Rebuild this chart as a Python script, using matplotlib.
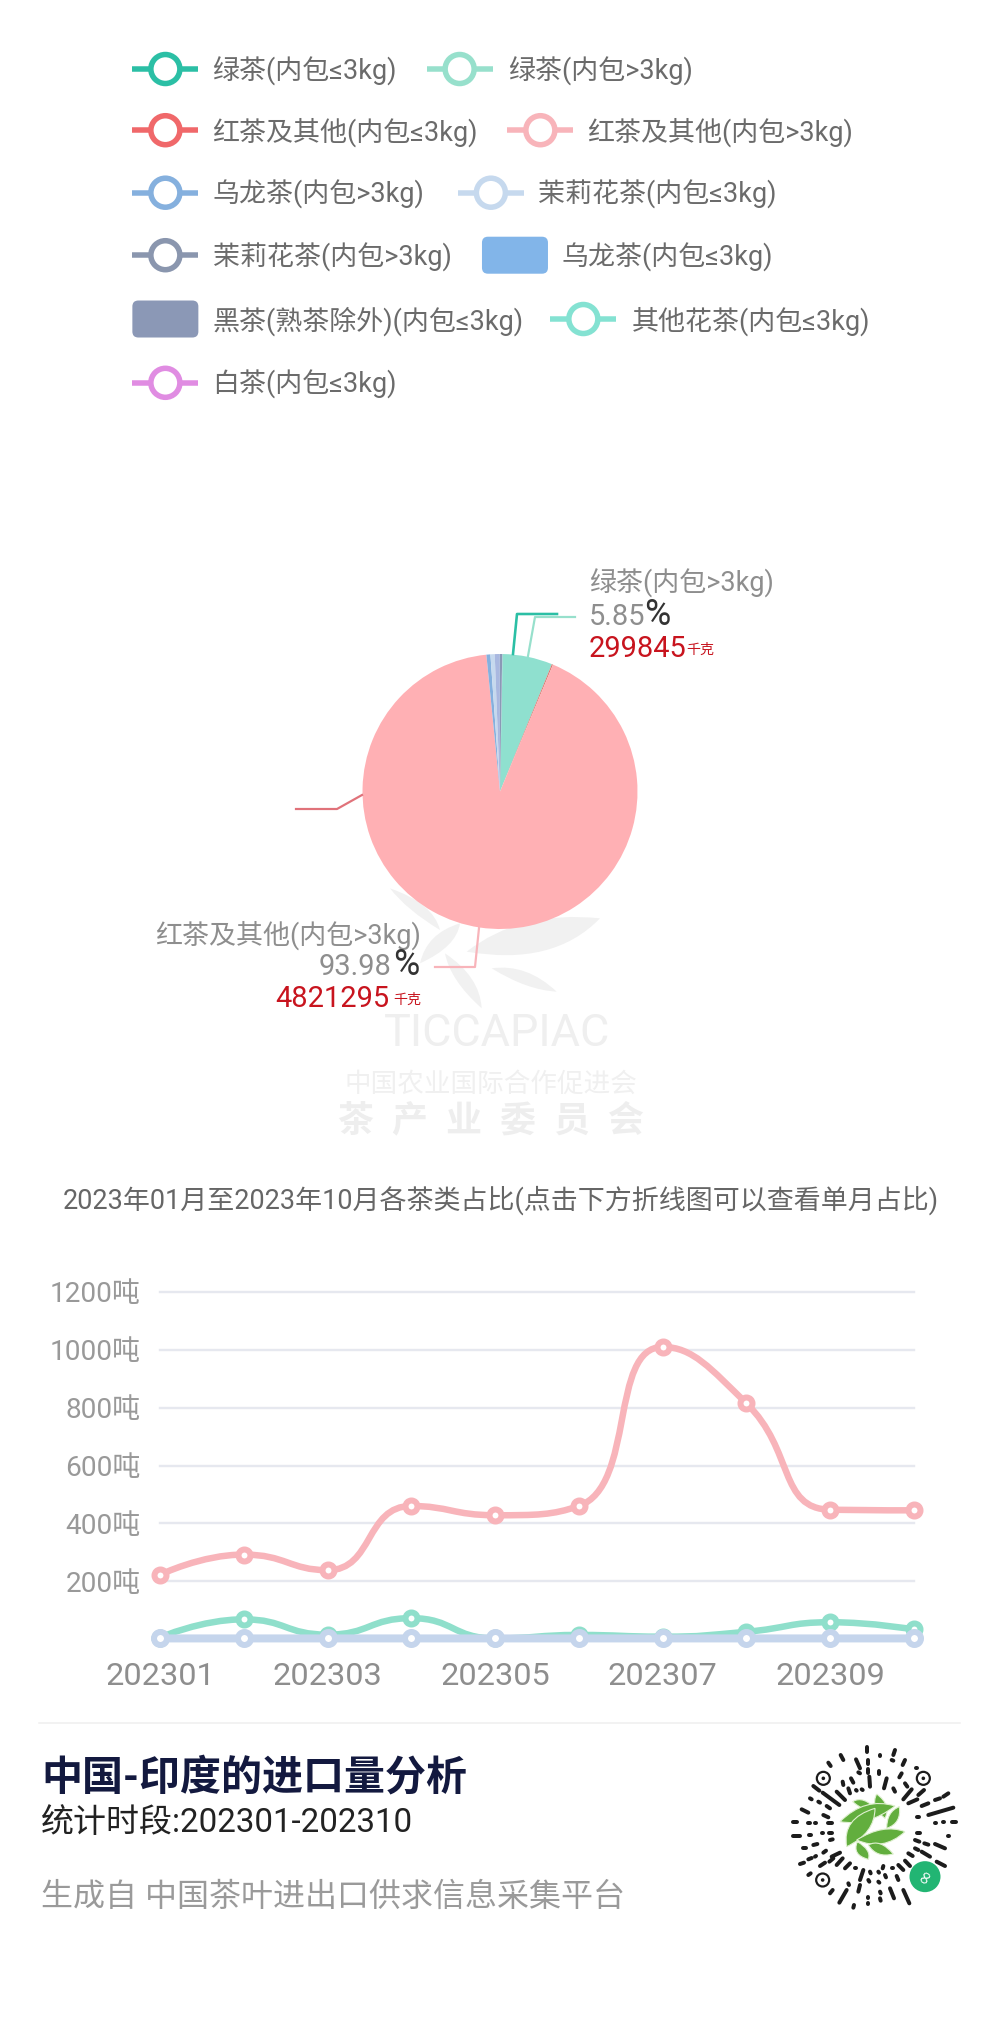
import numpy as np
import matplotlib
matplotlib.use("Agg")
import matplotlib.pyplot as plt
from matplotlib.path import Path
from matplotlib.patches import PathPatch, FancyBboxPatch, Circle

plt.rcParams['font.family'] = ['Roboto', 'Noto Sans CJK SC', 'DejaVu Sans']

W, H = 1000, 2042
PT = 72 / 100  # points per pixel at dpi 100

# ---- data ----
months = ['202301', '202302', '202303', '202304', '202305', '202306', '202307', '202308', '202309', '202310']
xtick_labels = ['202301', '202303', '202305', '202307', '202309']
ytick_values = [200, 400, 600, 800, 1000, 1200]
black_tea_big = [222, 292, 238, 460, 428, 460, 1010, 815, 447, 445]
green_tea_big = [5, 68, 15, 72, 2, 14, 8, 25, 58, 33]
jasmine_small = [2, 2, 2, 2, 2, 2, 2, 2, 2, 2]

legend_labels = ['绿茶(内包≤3kg)', '绿茶(内包>3kg)', '红茶及其他(内包≤3kg)', '红茶及其他(内包>3kg)',
                 '乌龙茶(内包>3kg)', '茉莉花茶(内包≤3kg)', '茉莉花茶(内包>3kg)', '乌龙茶(内包≤3kg)',
                 '黑茶(熟茶除外)(内包≤3kg)', '其他花茶(内包≤3kg)', '白茶(内包≤3kg)']
legend_colors = ['#2BBFA5', '#97E0CC', '#F0686A', '#F8B4BA', '#85B0DE', '#C6D9EE', '#8A96AE',
                 '#82B5E9', '#8B98B6', '#84E2D2', '#E08CE2']
legend_is_box = [False, False, False, False, False, False, False, True, True, False, False]

# slice shares as drawn (the small slices are widened by the chart's minimum angle)
pie_shares = [0.03, 5.85, 0.14, 92.12, 0.47, 0.50, 0.58, 0.01, 0.28, 0.01, 0.01]
pie_colors = ['#2BBFA5', '#8FE0CF', '#D9786F', '#FFB0B4', '#85B0DE', '#C6D9EE', '#A9B8E0',
              '#82B5E9', '#8B98B6', '#84E2D2', '#E08CE2']

fig = plt.figure(figsize=(W / 100, H / 100), dpi=100, facecolor='white')


def px_axes(x0, y0, x1, y1, **kw):
    return fig.add_axes([x0 / W, 1 - y1 / H, (x1 - x0) / W, (y1 - y0) / H], **kw)


# ---- background watermark ----
bg = px_axes(0, 0, W, H, zorder=0)
bg.set_xlim(0, W); bg.set_ylim(H, 0); bg.axis('off')


def leaf(a, b, c1, c2, color='#F1F1F1'):
    z = lambda p: (260 + p[0] / 3, 880 + p[1] / 3)
    a, b, c1, c2 = z(a), z(b), z(c1), z(c2)
    path = Path([a, c1, b, c2, a], [Path.MOVETO, Path.CURVE3, Path.CURVE3, Path.CURVE3, Path.CURVE3])
    bg.add_patch(PathPatch(path, fc=color, ec='none'))


leaf((620, 215), (1020, 115), (780, 90), (880, 260))
leaf((555, 220), (665, 385), (570, 300), (660, 290))
leaf((695, 265), (890, 335), (800, 250), (800, 330))
leaf((600, 130), (480, 250), (590, 200), (500, 160))
leaf((540, 150), (390, 25), (520, 70), (440, 90))
bg.text(497, 1034, 'TICCAPIAC', ha='center', va='center', fontsize=45 * PT, color='#EFEFEF')
bg.text(491, 1084, '中国农业国际合作促进会', ha='center', va='center', fontsize=26.6 * PT, color='#F0F0F0')
bg.text(491, 1121, '茶  产  业  委  员  会', ha='center', va='center', fontsize=36 * PT, color='#EEEEEE',
        fontweight='bold')

# ---- pie ----
cx, cy, r = 500, 791.5, 137.5
pie_ax = px_axes(cx - r, cy - r, cx + r, cy + r, zorder=1)
pie_ax.pie(pie_shares, colors=pie_colors, startangle=89, counterclock=False, radius=1,
           wedgeprops=dict(linewidth=0))
pie_ax.set_xlim(-1, 1); pie_ax.set_ylim(-1, 1); pie_ax.axis('off')


# ---- line chart ----
def smooth_path(xs, ys, sx, sy, smooth=0.5):
    """Same construction as the source library's smoothed line."""
    X, Y = np.array(xs, float) * sx, np.array(ys, float) * sy
    n = len(X)
    verts = [(X[0], Y[0])]
    codes = [Path.MOVETO]
    cpx, cpy = X[0], Y[0]
    for i in range(1, n):
        x, y = X[i], Y[i]
        px_, py_ = X[i - 1], Y[i - 1]
        nx, ny = X[min(i + 1, n - 1)], Y[min(i + 1, n - 1)]
        if i == n - 1:
            c0x, c0y, ncx, ncy = x, y, x, y
        else:
            vx, vy = nx - px_, ny - py_
            lp = np.hypot(x - px_, y - py_)
            ln = np.hypot(x - nx, y - ny)
            ratio = ln / (ln + lp)
            ncx = x + vx * smooth * ratio
            ncy = y + vy * smooth * ratio
            ncx = min(ncx, max(nx, x)); ncy = min(ncy, max(ny, y))
            ncx = max(ncx, min(nx, x)); ncy = max(ncy, min(ny, y))
            vx, vy = ncx - x, ncy - y
            c0x, c0y = x - vx * lp / ln, y - vy * lp / ln
            c0x = min(c0x, max(px_, x)); c0y = min(c0y, max(py_, y))
            c0x = max(c0x, min(px_, x)); c0y = max(c0y, min(py_, y))
            vx, vy = x - c0x, y - c0y
            ncx, ncy = x + vx * ln / lp, y + vy * ln / lp
        verts += [(cpx, cpy), (c0x, c0y), (x, y)]
        codes += [Path.CURVE4] * 3
        cpx, cpy = ncx, ncy
    v = np.array(verts)
    v[:, 0] /= sx; v[:, 1] /= sy
    return Path(v, codes)


lx0, lx1, ly0, ly1 = 160, 914, 1639, 1292
ax = px_axes(lx0, ly1, lx1, ly0, zorder=2)
ax.patch.set_alpha(0)
ax.set_xlim(0, 9); ax.set_ylim(0, 1200)
for s in ax.spines.values():
    s.set_visible(False)
sx = (lx1 - lx0) / 9
sy = (ly0 - ly1) / 1200
xpos = np.arange(len(months))
for v in ytick_values:
    ax.plot([0, 9], [v, v], color='#E6E8EF', lw=2.4 * PT, zorder=1, clip_on=False)
for vals, col, z, lw, ms in [(black_tea_big, '#F8B4BA', 3, 6.5, 12), (green_tea_big, '#8FDFCB', 4, 6.5, 12),
                             (jasmine_small, '#C5D5EC', 5, 8, 13)]:
    ax.add_patch(PathPatch(smooth_path(xpos, vals, sx, sy), fc='none', ec=col, lw=lw * PT,
                           zorder=z, clip_on=False, capstyle='round'))
    ax.plot(xpos, vals, ls='none', marker='o', ms=ms * PT, mfc='white', mec=col, mew=6 * PT,
            zorder=z + 0.5, clip_on=False)
ax.set_xticks(xpos[::2], xtick_labels, fontsize=32.5 * PT, color='#8E8E8E')
ax.set_yticks(ytick_values, [f'{v}吨' for v in ytick_values], fontsize=28 * PT, color='#999999')
ax.tick_params(length=0)
ax.tick_params(axis='x', pad=16.5)
ax.tick_params(axis='y', pad=14)

# ---- overlay ----
ov = px_axes(0, 0, W, H, zorder=3)
ov.set_xlim(0, W); ov.set_ylim(H, 0); ov.axis('off')

# legend
k = 1000 / 768
rows = [53, 53, 100, 100, 148, 148, 196, 196, 245, 245, 294]
handle_x = [127, 353, 127, 415, 127, 377, 127, 395.5, 127, 448, 127]
text_x = [164, 391, 164, 452, 164, 414, 164, 432, 164, 486, 164]
for lab, col, box, ry, hx, tx in zip(legend_labels, legend_colors, legend_is_box, rows, handle_x, text_x):
    y, hx, tx = ry * k, hx * k, tx * k
    if box:
        ov.add_patch(FancyBboxPatch((hx - 33 + 6, y - 18.5 + 6), 54, 25, boxstyle='round,pad=6,rounding_size=6',
                                    fc=col, ec='none'))
    else:
        ov.plot([hx - 33, hx + 33], [y, y], color=col, lw=5.5 * PT, solid_capstyle='butt', zorder=2)
        ov.add_patch(Circle((hx, y), 14.5, fc='white', ec=col, lw=5.5 * PT, zorder=3))
    ov.text(tx - 1, y + 2, lab, ha='left', va='center', fontsize=27 * PT, color='#6B6B6B')

# pie leaders and labels
ov.plot([513, 517, 557], [654, 614, 614], color='#2BBFA5', lw=2.6 * PT)
ov.plot([528, 535, 575], [656, 617, 617], color='#97E0CC', lw=2.2 * PT)
ov.plot([362, 337, 296], [795, 809, 809], color='#E0727A', lw=2.2 * PT)
ov.plot([479, 475, 435], [928, 967, 967], color='#F8B4BA', lw=2.2 * PT)

ov.text(589, 583, '绿茶(内包>3kg)', ha='left', va='center', fontsize=27 * PT, color='#8E8E8E')
ov.text(589, 617, '5.85', ha='left', va='center', fontsize=29 * PT, color='#8E8E8E')
ov.text(644, 615, '%', ha='left', va='center', fontsize=36 * PT, color='#333333')
ov.text(589, 649, '299845', ha='left', va='center', fontsize=29 * PT, color='#C8141E')
ov.text(686, 650, '千克', ha='left', va='center', fontsize=14 * PT, color='#C8141E')

ov.text(421, 935, '红茶及其他(内包>3kg)', ha='right', va='center', fontsize=27 * PT, color='#8E8E8E')
ov.text(391, 967, '93.98', ha='right', va='center', fontsize=29 * PT, color='#8E8E8E')
ov.text(393, 965, '%', ha='left', va='center', fontsize=36 * PT, color='#333333')
ov.text(389, 999, '4821295', ha='right', va='center', fontsize=29 * PT, color='#C8141E')
ov.text(421, 1000, '千克', ha='right', va='center', fontsize=14 * PT, color='#C8141E')

# chart title
ov.text(501, 1200, '2023年01月至2023年10月各茶类占比(点击下方折线图可以查看单月占比)', ha='center', va='center',
        fontsize=27 * PT, color='#666666')

# footer
ov.plot([39, 960], [1723, 1723], color='#EEEEEE', lw=1.5 * PT)
ov.text(41, 1777, '中国-印度的进口量分析', ha='left', va='center', fontsize=41 * PT, color='#13193F', fontweight='bold')
ov.text(41, 1823, '统计时段:202301-202310', ha='left', va='center', fontsize=33 * PT, color='#222222')
ov.text(41, 1897, '生成自 中国茶叶进出口供求信息采集平台', ha='left', va='center', fontsize=32 * PT, color='#9A9A9A')


# mini-program code (decorative), traced in 3x crop coordinates
def qz(p):
    return 780 + p[0] / 3, 1740 + p[1] / 3


strokes = [(262,22,262,35),(182,45,190,60),(300,45,300,47),(345,30,340,45),(145,68,152,78),(228,58,240,85),
(265,60,265,72),(265,88,265,98),(298,93,298,103),(335,60,340,62),(375,60,368,75),(410,85,408,85),(188,125,190,135),
(213,115,220,128),(235,97,240,100),(268,110,270,140),(320,115,312,145),(365,100,358,112),(100,138,118,152),
(128,158,178,195),(170,155,195,180),(205,145,210,160),(228,150,230,152),(245,148,248,150),(340,145,345,155),
(375,130,382,140),(395,148,370,178),(432,150,415,165),(385,190,412,178),(425,198,445,190),(465,180,480,175),
(490,170,505,160),(90,175,95,178),(115,185,120,188),(140,198,150,205),(65,208,85,218),(130,225,145,232),
(445,225,520,203),(40,247,52,247),(85,250,90,250),(105,250,108,250),(145,250,155,250),(410,232,418,232),
(440,252,442,252),(465,250,468,250),(490,247,492,247),(515,245,527,245),(38,288,60,288),(88,285,92,285),
(110,285,112,285),(125,280,130,280),(148,278,155,278),(410,280,420,280),(505,287,507,287),(70,323,78,323),
(100,315,112,312),(150,300,158,298),(405,300,418,305),(433,310,445,314),(465,312,495,325),(60,372,72,368),
(85,358,95,354),(105,350,108,348),(130,338,138,332),(155,350,180,338),(148,365,160,355),(405,325,415,330),
(425,335,450,350),(470,365,495,378),(120,378,135,368),(170,375,188,355),(195,385,210,370),(385,340,398,348),
(375,362,390,378),(355,375,370,390),(85,405,92,400),(225,385,228,385),(335,385,338,385),(310,378,308,385),
(270,395,272,400),(295,395,297,398),(240,420,250,390),(315,405,318,412),(350,408,355,420),(205,430,207,435),
(150,460,158,450),(178,488,200,450),(235,455,240,435),(265,420,268,425),(295,425,298,428),(330,445,342,475),
(370,450,388,490),(222,495,220,503),(263,470,263,475),(263,490,263,493),(300,455,302,460),(300,475,302,482)]
for s in strokes:
    (a, b), (c, d) = qz(s[:2]), qz(s[2:])
    ov.plot([a, c], [b, d], color='#1C1C1C', lw=4 * PT, solid_capstyle='round')
for fx, fy in [(130, 115), (430, 115), (128, 420)]:
    a, b = qz((fx, fy))
    ov.add_patch(Circle((a, b), 6.5, fc='none', ec='#1C1C1C', lw=2.2 * PT))
    ov.add_patch(Circle((a, b), 1.8, fc='#1C1C1C', ec='none'))


def qleaf(a, b, c1, c2, color='#62AE3E'):
    pts = [qz(a), qz(c1), qz(b), qz(c2), qz(a)]
    ov.add_patch(PathPatch(Path(pts, [Path.MOVETO, Path.CURVE3, Path.CURVE3, Path.CURVE3, Path.CURVE3]),
                           fc=color, ec='#DFF0D0', lw=0.8))


qleaf((218, 185), (290, 210), (250, 165), (265, 225))
qleaf((290, 162), (315, 235), (270, 200), (335, 195))
qleaf((358, 200), (320, 265), (320, 215), (365, 250))
qleaf((180, 245), (345, 198), (255, 170), (265, 260))
qleaf((200, 320), (285, 205), (185, 235), (285, 280))
qleaf((375, 275), (230, 300), (310, 250), (310, 335))
qleaf((232, 305), (265, 358), (215, 345), (275, 330))
qleaf((265, 315), (340, 342), (300, 295), (290, 355))
a, b = qz((435, 410))
ov.add_patch(Circle((a, b), 15.5, fc='#22B573', ec='none'))
ov.text(a, b, '∞', rotation=60, ha='center', va='center', fontsize=18 * PT, color='white',
        family='DejaVu Sans')

fig.savefig('out.png', dpi=100, facecolor='white')
